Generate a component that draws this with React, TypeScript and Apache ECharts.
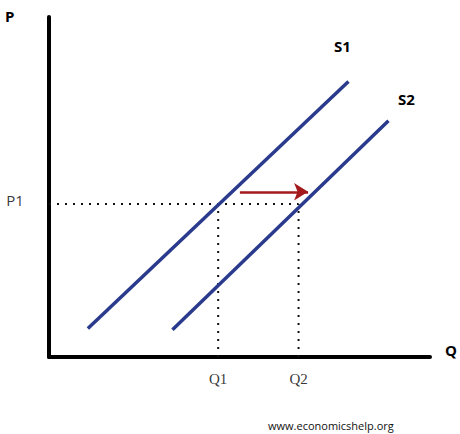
import React, { useEffect, useRef } from "react";
import * as echarts from "echarts";

const s1Line: [number, number][] = [[10.2, 8.4], [78.6, 81]];
const s2Line: [number, number][] = [[32.4, 8], [89.1, 69.5]];
const p1Value = 45;
const q1Value = 44.4;
const q2Value = 65.5;
const shiftArrow: [number, number][] = [[50.1, 48.6], [68, 48.6]];
const qLabels = ["Q1", "Q2"];
const pLabel = "P1";

export default function App() {
  const ref = useRef<HTMLDivElement>(null);
  useEffect(() => {
    if (!ref.current) return;
    const chart = echarts.init(ref.current, null, { renderer: "svg" });
    const blue = "#2a3a8c";
    const dotted = { color: "#111", width: 2, type: [2, 6] as any, cap: "butt" as const };
    const sans = "'Open Sans', 'DejaVu Sans', sans-serif";
    chart.setOption({
      animation: false,
      backgroundColor: "#fff",
      grid: { left: 49, top: 17, right: 30, bottom: 77 },
      xAxis: {
        type: "value", min: 0, max: 100,
        axisLine: { show: true, lineStyle: { color: "#000", width: 4 } },
        axisTick: { show: false }, axisLabel: { show: false }, splitLine: { show: false },
      },
      yAxis: {
        type: "value", min: 0, max: 100,
        axisLine: { show: true, lineStyle: { color: "#000", width: 4 } },
        axisTick: { show: false }, axisLabel: { show: false }, splitLine: { show: false },
      },
      series: [
        {
          type: "line", data: [[0, p1Value], [q2Value, p1Value]], symbol: "none",
          lineStyle: dotted, z: 1,
        },
        {
          type: "line", data: [[q1Value, 0], [q1Value, p1Value]], symbol: "none",
          lineStyle: dotted, z: 1,
        },
        {
          type: "line", data: [[q2Value, 0], [q2Value, p1Value]], symbol: "none",
          lineStyle: dotted, z: 1,
        },
        {
          type: "line", data: s1Line, symbol: "none",
          lineStyle: { color: blue, width: 3.5 }, z: 3,
        },
        {
          type: "line", data: s2Line, symbol: "none",
          lineStyle: { color: blue, width: 3.5 }, z: 3,
          markLine: {
            silent: true,
            symbol: ["none", "arrow"],
            symbolSize: [13, 14],
            label: { show: false },
            lineStyle: { color: "#a3191c", width: 2.5, type: "solid" },
            data: [[{ coord: shiftArrow[0] }, { coord: shiftArrow[1] }]],
          },
        },
        {
          type: "scatter", symbolSize: 0,
          data: [[q1Value, 0], [q2Value, 0]].map((v, i) => ({ value: v, name: qLabels[i] })),
          label: {
            show: true, position: "inside", offset: [0, 22], formatter: "{b}",
            color: "#000", fontSize: 15, fontFamily: "'Liberation Serif', serif",
          },
        },
        {
          type: "scatter", symbolSize: 0,
          data: [{ value: [0, p1Value], name: pLabel }],
          label: {
            show: true, position: "inside", offset: [-34, -4], formatter: "{b}",
            color: "#000", fontSize: 15, fontFamily: sans,
          },
        },
      ],
      graphic: [
        { type: "text", left: 5, top: 8, style: { text: "P", font: `bold 15px ${sans}`, fill: "#000" } },
        { type: "text", left: 445, top: 342, style: { text: "Q", font: `bold 15px ${sans}`, fill: "#000" } },
        { type: "text", left: 334, top: 38, style: { text: "S1", font: `bold 15px ${sans}`, fill: "#000" } },
        { type: "text", left: 398, top: 91, style: { text: "S2", font: `bold 15px ${sans}`, fill: "#000" } },
        { type: "text", left: 268, top: 420, style: { text: "www.economicshelp.org", font: `11px ${sans}`, fill: "#111" } },
      ],
    });
    return () => chart.dispose();
  }, []);
  return <div ref={ref} style={{ width: 460, height: 434, position: "absolute", left: 0, top: 0 }} />;
}
